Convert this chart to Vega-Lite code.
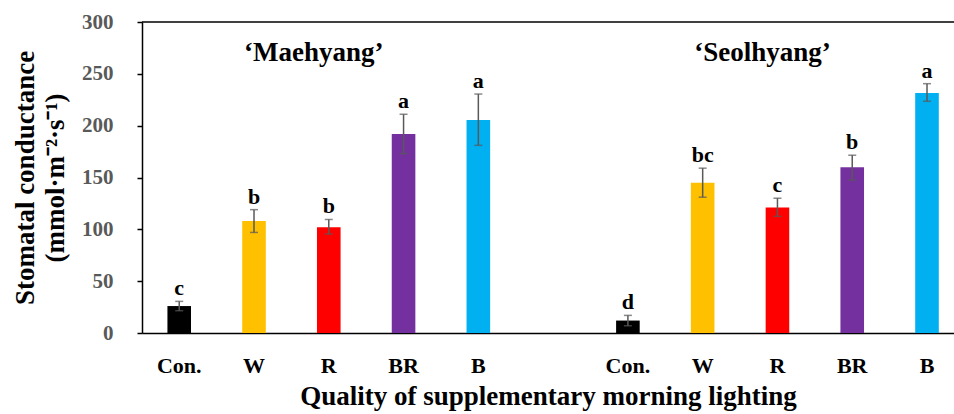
{
  "$schema": "https://vega.github.io/schema/vega-lite/v6.json",
  "width": 812,
  "height": 311,
  "autosize": {"type": "none"},
  "padding": {"left": 142, "top": 22, "right": 0, "bottom": 81},
  "background": "white",
  "config": {
    "view": {"stroke": null},
    "font": "Liberation Serif",
    "axis": {"grid": false},
    "axisX": {
      "labelAngle": 0,
      "ticks": false,
      "tickSize": 0,
      "domainColor": "#000000",
      "domainWidth": 1.5,
      "labelFont": "Liberation Serif",
      "labelFontSize": 22,
      "labelFontWeight": "bold",
      "labelColor": "#000000",
      "labelPadding": 22,
      "titleFont": "Liberation Serif",
      "titleFontSize": 27,
      "titleFontWeight": "bold",
      "titleColor": "#000000",
      "titlePadding": 7
    },
    "axisY": {
      "tickColor": "#000000",
      "tickSize": 5,
      "tickWidth": 1.5,
      "domainColor": "#000000",
      "domainWidth": 1.5,
      "labelFont": "Liberation Serif",
      "labelFontSize": 21,
      "labelFontWeight": "bold",
      "labelColor": "#595959",
      "labelPadding": 24,
      "titleFont": "Liberation Serif",
      "titleFontSize": 27,
      "titleFontWeight": "bold",
      "titleColor": "#000000",
      "titleLineHeight": 30,
      "titlePadding": 12
    }
  },
  "datasets": {
    "bars": [
      {"key": "M_Con.", "cultivar": "Maehyang", "treat": "Con.", "mean": 26, "lower": 21.5, "upper": 30.5, "letter": "c"},
      {"key": "M_W", "cultivar": "Maehyang", "treat": "W", "mean": 108, "lower": 97, "upper": 119, "letter": "b"},
      {"key": "M_R", "cultivar": "Maehyang", "treat": "R", "mean": 102, "lower": 95.5, "upper": 109.5, "letter": "b"},
      {"key": "M_BR", "cultivar": "Maehyang", "treat": "BR", "mean": 192, "lower": 173, "upper": 211, "letter": "a"},
      {"key": "M_B", "cultivar": "Maehyang", "treat": "B", "mean": 205.5, "lower": 181, "upper": 230.5, "letter": "a"},
      {"key": "S_Con.", "cultivar": "Seolhyang", "treat": "Con.", "mean": 12, "lower": 7, "upper": 17, "letter": "d"},
      {"key": "S_W", "cultivar": "Seolhyang", "treat": "W", "mean": 145, "lower": 131, "upper": 159, "letter": "bc"},
      {"key": "S_R", "cultivar": "Seolhyang", "treat": "R", "mean": 121, "lower": 112.5, "upper": 130, "letter": "c"},
      {"key": "S_BR", "cultivar": "Seolhyang", "treat": "BR", "mean": 160, "lower": 147.5, "upper": 171.5, "letter": "b"},
      {"key": "S_B", "cultivar": "Seolhyang", "treat": "B", "mean": 231.5, "lower": 223.5, "upper": 240.5, "letter": "a"}
    ],
    "groups": [
      {"key": "M_R", "name": "‘Maehyang’"},
      {"key": "S_R", "name": "‘Seolhyang’"}
    ],
    "frame": [{"v": 300}]
  },
  "layer": [
    {
      "data": {"name": "bars"},
      "mark": {"type": "bar"},
      "encoding": {
        "x": {
          "field": "key",
          "type": "nominal",
          "sort": null,
          "scale": {
            "domain": ["M_Con.", "M_W", "M_R", "M_BR", "M_B", "gap", "S_Con.", "S_W", "S_R", "S_BR", "S_B"],
            "paddingInner": 0.6844,
            "paddingOuter": 0.2716,
            "align": 0.626,
            "round": false
          },
          "axis": {
            "labelExpr": "datum.label == 'gap' ? '' : split(datum.label, '_')[1]"
          },
          "title": "Quality of supplementary morning lighting"
        },
        "y": {
          "field": "mean",
          "type": "quantitative",
          "scale": {"domain": [0, 300], "nice": false},
          "axis": {"values": [0, 50, 100, 150, 200, 250, 300]},
          "title": ["Stomatal conductance", "(mmol·m⁻²·s⁻¹)"]
        },
        "color": {
          "field": "treat",
          "type": "nominal",
          "scale": {
            "domain": ["Con.", "W", "R", "BR", "B"],
            "range": ["#000000", "#FFC000", "#FF0000", "#7530A0", "#00B0F0"]
          },
          "legend": null
        }
      }
    },
    {
      "data": {"name": "bars"},
      "mark": {"type": "rule", "color": "#595959", "strokeWidth": 1.5},
      "encoding": {
        "x": {"field": "key", "type": "nominal", "title": "Quality of supplementary morning lighting"},
        "y": {"field": "lower", "type": "quantitative", "title": ["Stomatal conductance", "(mmol·m⁻²·s⁻¹)"]},
        "y2": {"field": "upper"}
      }
    },
    {
      "data": {"name": "bars"},
      "mark": {"type": "tick", "color": "#595959", "size": 8, "thickness": 1.5, "orient": "horizontal"},
      "encoding": {
        "x": {"field": "key", "type": "nominal", "title": "Quality of supplementary morning lighting"},
        "y": {"field": "lower", "type": "quantitative", "title": ["Stomatal conductance", "(mmol·m⁻²·s⁻¹)"]}
      }
    },
    {
      "data": {"name": "bars"},
      "mark": {"type": "tick", "color": "#595959", "size": 8, "thickness": 1.5, "orient": "horizontal"},
      "encoding": {
        "x": {"field": "key", "type": "nominal", "title": "Quality of supplementary morning lighting"},
        "y": {"field": "upper", "type": "quantitative", "title": ["Stomatal conductance", "(mmol·m⁻²·s⁻¹)"]}
      }
    },
    {
      "data": {"name": "bars"},
      "mark": {"type": "text", "baseline": "alphabetic", "dy": -6, "font": "Liberation Serif", "fontSize": 22, "fontWeight": "bold", "color": "#000000"},
      "encoding": {
        "x": {"field": "key", "type": "nominal", "title": "Quality of supplementary morning lighting"},
        "y": {"field": "upper", "type": "quantitative", "title": ["Stomatal conductance", "(mmol·m⁻²·s⁻¹)"]},
        "text": {"field": "letter"}
      }
    },
    {
      "data": {"name": "frame"},
      "mark": {"type": "rule", "color": "#000000", "strokeWidth": 1.5},
      "encoding": {
        "y": {"field": "v", "type": "quantitative", "title": ["Stomatal conductance", "(mmol·m⁻²·s⁻¹)"]}
      }
    },
    {
      "data": {"name": "groups"},
      "mark": {"type": "text", "baseline": "alphabetic", "dx": -15, "font": "Liberation Serif", "fontSize": 27, "fontWeight": "bold", "color": "#000000"},
      "encoding": {
        "x": {"field": "key", "type": "nominal", "title": "Quality of supplementary morning lighting"},
        "y": {"datum": 262, "type": "quantitative", "title": ["Stomatal conductance", "(mmol·m⁻²·s⁻¹)"]},
        "text": {"field": "name"}
      }
    }
  ]
}
